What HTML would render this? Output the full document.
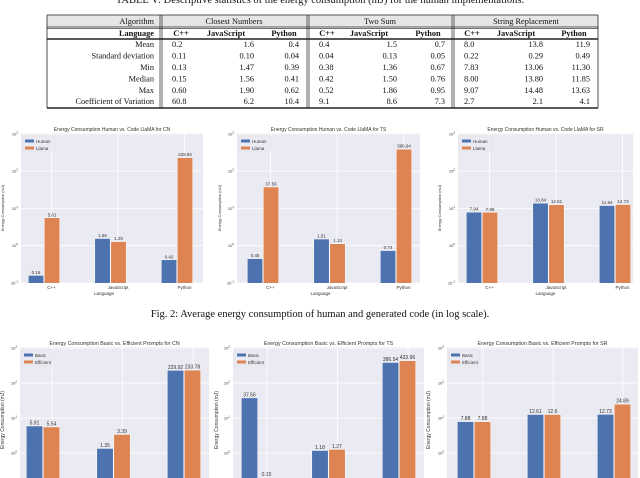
<!DOCTYPE html>
<html><head><meta charset="utf-8"><style>
body{margin:0;background:#fff;width:640px;height:478px;overflow:hidden;font-family:"Liberation Serif",serif}
svg{display:block}
.t{font-family:"Liberation Serif",serif;font-size:8.3px;fill:#111}
.b{font-weight:bold}
.s{font-family:"Liberation Sans",sans-serif;fill:#333}
</style></head><body>
<svg id="root" width="640" height="478" viewBox="0 0 640 478">
<text x="320" y="3" text-anchor="middle" class="t" style="font-size:10.5px">TABLE V: Descriptive statistics of the energy consumption (mJ) for the human implementations.</text>
<g id="table"></g>
<text x="320" y="317" text-anchor="middle" class="t" style="font-size:10.5px">Fig. 2: Average energy consumption of human and generated code (in log scale).</text>
<g id="charts"></g>
</svg>
<script>
const NS="http://www.w3.org/2000/svg";
function mk(tag,attrs,parent,txt){const e=document.createElementNS(NS,tag);for(const k in attrs)e.setAttribute(k,attrs[k]);if(txt!==undefined)e.textContent=txt;parent.appendChild(e);return e;}
// ---- table ----
const tbl=document.getElementById('table');
mk('rect',{x:47,y:15,width:551,height:12,fill:'#e6e6e6'},tbl);
const hl=[[15,0.8],[27,0.8],[39,1.4],[108,1.4]];
hl.forEach(h=>mk('line',{x1:47,x2:598,y1:h[0],y2:h[0],stroke:'#222','stroke-width':h[1]},tbl));
mk('line',{x1:47,x2:598,y1:28.6,y2:28.6,stroke:'#222','stroke-width':0.6},tbl);
[47,598].forEach(x=>mk('line',{x1:x,x2:x,y1:15,y2:108,stroke:'#222','stroke-width':0.8},tbl));
[160,307,452].forEach(x=>{mk('line',{x1:x,x2:x,y1:15,y2:108,stroke:'#222','stroke-width':0.7},tbl);mk('line',{x1:x+2,x2:x+2,y1:15,y2:108,stroke:'#222','stroke-width':0.7},tbl);});
const groups=['Closest Numbers','Two Sum','String Replacement'];
const groupX=[234,380,526];
const langs=['C++','JavaScript','Python'];
const rowLabels=['Mean','Standard deviation','Min','Median','Max','Coefficient of Variation'];
const tableVals=[
['0.2','1.6','0.4','0.4','1.5','0.7','8.0','13.8','11.9'],
['0.11','0.10','0.04','0.04','0.13','0.05','0.22','0.29','0.49'],
['0.13','1.47','0.39','0.38','1.36','0.67','7.83','13.06','11.30'],
['0.15','1.56','0.41','0.42','1.50','0.76','8.00','13.80','11.85'],
['0.60','1.90','0.62','0.52','1.86','0.95','9.07','14.48','13.63'],
['60.8','6.2','10.4','9.1','8.6','7.3','2.7','2.1','4.1']];
const rowY=[47,58.7,70,81.6,93,104];
let e=mk('text',{x:154,y:24,'text-anchor':'end',class:'t'},tbl,'Algorithm');
e=mk('text',{x:154,y:36,'text-anchor':'end',class:'t b'},tbl,'Language');
groups.forEach((g,i)=>{const t=mk('text',{x:groupX[i],y:24,'text-anchor':'middle',class:'t'},tbl,g);

});
const colX=[[172,254,299],[319,397,445],[464,543,590]];
const hdrX=[[181,226,284],[327,369,428],[472,516,574]];
for(let g=0;g<3;g++)for(let l=0;l<3;l++){mk('text',{x:hdrX[g][l],y:36,'text-anchor':'middle',class:'t b'},tbl,langs[l]);}
rowLabels.forEach((r,i)=>{mk('text',{x:154,y:rowY[i],'text-anchor':'end',class:'t'},tbl,r);
for(let g=0;g<3;g++)for(let l=0;l<3;l++){mk('text',{x:colX[g][l],y:rowY[i],'text-anchor':l==0?'start':'end',class:'t'},tbl,tableVals[i][g*3+l]);}});

// ---- charts data ----
const xCats=['C++','JavaScript','Python'];
const cnHuman=[0.16,1.56,0.42], cnLlama=[5.61,1.29,229.92];
const tsHuman=[0.45,1.51,0.74], tsLlama=[37.56,1.13,386.94];
const srHuman=[7.94,13.84,11.94], srLlama=[7.88,12.61,12.73];
const cnBasic=[5.91,1.35,229.92], cnEff=[5.54,3.39,233.78];
const tsBasic=[37.56,1.18,386.54], tsEff=[0.15,1.27,433.96];
const srBasic=[7.88,12.61,12.73], srEff=[7.88,12.6,24.89];
const topTicks=[-1,0,1,2,3];
const botTicks=[0,1,2,3];
const topLegend=['Human','Llama'];
const botLegend=['Basic','Efficient'];

const BLUE='#4c72b0',ORANGE='#dd8452';
const charts=[
{title:'Energy Consumption Human vs. Code LlaMA for CN',a:cnHuman,b:cnLlama,leg:topLegend,L:21,R:203,T:133,B:283,y0:283,ppd:37.3,c0:44,sp:66.5,w:16,ticks:topTicks,ylx:4,top:true,name:'cn-human-llama'},
{title:'Energy Consumption Human vs. Code LlaMA for TS',a:tsHuman,b:tsLlama,leg:topLegend,L:237,R:420,T:133,B:283,y0:283,ppd:37.3,c0:263,sp:66.5,w:16,ticks:topTicks,ylx:221,top:true,name:'ts-human-llama'},
{title:'Energy Consumption Human vs. Code LlaMA for SR',a:srHuman,b:srLlama,leg:topLegend,L:458,R:633,T:133,B:283,y0:283,ppd:37.3,c0:482,sp:66.5,w:16,ticks:topTicks,ylx:441,top:true,name:'sr-human-llama'},
{title:'Energy Consumption Basic vs. Efficient Prompts for CN',a:cnBasic,b:cnEff,leg:botLegend,L:20,R:209,T:347,B:478,y0:488,ppd:35,c0:43,sp:70.5,w:17,ticks:botTicks,ylx:4,top:false,name:'cn-basic-efficient'},
{title:'Energy Consumption Basic vs. Efficient Prompts for TS',a:tsBasic,b:tsEff,leg:botLegend,L:233,R:424,T:347,B:478,y0:488,ppd:35,c0:258,sp:70.5,w:17,ticks:botTicks,ylx:218,top:false,name:'ts-basic-efficient'},
{title:'Energy Consumption Basic vs. Efficient Prompts for SR',a:srBasic,b:srEff,leg:botLegend,L:447,R:638,T:347,B:478,y0:488,ppd:35,c0:474,sp:70,w:17,ticks:botTicks,ylx:430,top:false,name:'sr-basic-efficient'}];
const root=document.getElementById('charts');
charts.forEach((c,ci)=>{
 const g=mk('g',{},root);
 
 
 const yS=v=>c.y0-(Math.log10(v)+1)*c.ppd;
 const xS=i=>c.c0+i*c.sp;
 const cid='clip'+ci;
 const cp=mk('clipPath',{id:cid},g);mk('rect',{x:c.L,y:c.T,width:c.R-c.L,height:c.B-c.T},cp);
 const bg=mk('rect',{x:c.L,y:c.T,width:c.R-c.L,height:c.B-c.T,fill:'#eaeaf2'},g);
 
 
 c.ticks.forEach(t=>{const y=yS(Math.pow(10,t));
  mk('line',{x1:c.L,x2:c.R,y1:y,y2:y,stroke:'#fff','stroke-width':0.8},g);
  const tl=mk('text',{x:c.L-3,y:y+1.5,'text-anchor':'end',class:'s','font-size':4},g,'10');
  
  
  mk('tspan',{dy:-2,'font-size':3},tl,String(t));});
 const bars=mk('g',{'clip-path':'url(#'+cid+')'},g);
 xCats.forEach((cat,i)=>{const tx=xS(i)+(c.top?7.5:9);
  mk('line',{x1:tx,x2:tx,y1:c.T,y2:c.B,stroke:'#fff','stroke-width':0.8},bars);
  if(c.top){const xl=mk('text',{x:tx,y:c.B+6,'text-anchor':'middle',class:'s','font-size':4.5},g,cat);
   
   }});
 [c.a,c.b].forEach((ser,si)=>{ser.forEach((v,i)=>{const x=xS(i)-c.w+si*c.w,y=yS(v);
  const r=mk('rect',{x:x+0.3,y:y,width:c.w-0.6,height:Math.max(0,c.B+20-y),fill:si?ORANGE:BLUE,stroke:'#fff','stroke-width':0.5},bars);
  
  
  const lbl=mk('text',{x:x+c.w/2,y:Math.min(y-1.5,c.B-2),'text-anchor':'middle',class:'s','font-size':c.top?4.5:5},g,String(v));
  
  });});
 const tt=mk('text',{x:(c.L+c.R)/2,y:c.T-2,'text-anchor':'middle',class:'s','font-size':c.top?5:5.3},g,c.title);
 
 
 const yc=c.top?(c.T+c.B)/2:420;
 const yl=mk('text',{x:c.ylx,y:yc,'text-anchor':'middle',class:'s','font-size':c.top?4:5,transform:'rotate(-90 '+c.ylx+' '+yc+')'},g,'Energy Consumption (mJ)');
 
 
 if(c.top){const xl=mk('text',{x:(c.L+c.R)/2-(ci==2?0:8),y:c.B+12,'text-anchor':'middle',class:'s','font-size':4.5},g,'Language');
  
  }
 const lg=mk('g',{},g);
 
 
 mk('rect',{x:c.L+2,y:c.T+3,width:c.top?32:30,height:15,fill:'#eaeaf2',stroke:'#ddd','stroke-width':0.5,rx:1},lg);
 c.leg.forEach((n,k)=>{const yy=c.T+8+k*7;
  mk('rect',{x:c.L+4,y:yy-1.5,width:9,height:3,fill:k?ORANGE:BLUE},lg);
  const le=mk('text',{x:c.L+15,y:yy+1.8,class:'s','font-size':4.5},lg,n);
  
  });
});
</script>
</body></html>
